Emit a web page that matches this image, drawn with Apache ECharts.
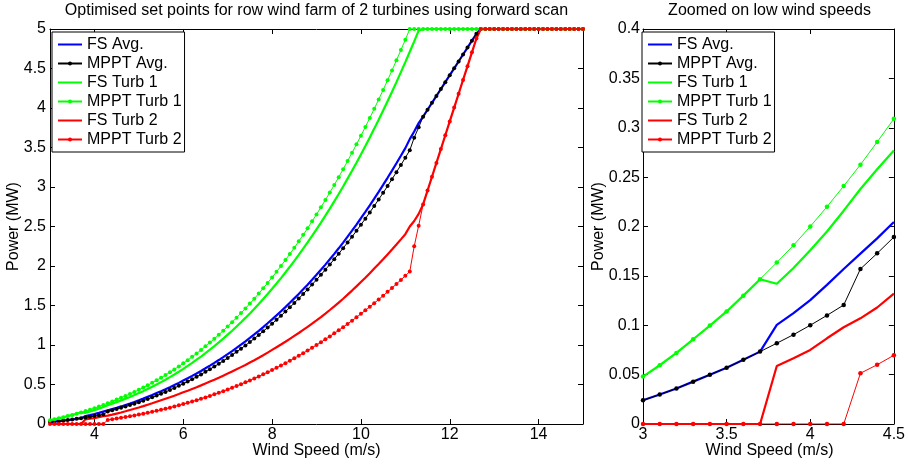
<!DOCTYPE html>
<html>
<head>
<meta charset="utf-8">
<script src="https://cdn.jsdelivr.net/npm/echarts@6/dist/echarts.min.js"></script>
<style>
  html, body { margin: 0; padding: 0; background: #fff; }
  #chart { width: 908px; height: 465px; }
</style>
</head>
<body>
<div id="chart"></div>
<script>
// Wind speed samples: 3.0 to 15.0 m/s in 0.1 m/s steps
const windSpeed = Array.from({ length: 121 }, (_, i) => (30 + i) / 10);

// Power (MW) per wind speed sample
const fsAvg = [
  0.024, 0.0298, 0.036, 0.0429, 0.0499, 0.057, 0.065, 0.0733, 0.1004, 0.1123,
  0.1255, 0.1409, 0.157, 0.1725, 0.188, 0.2045, 0.2225, 0.241, 0.2595, 0.2795,
  0.300, 0.321, 0.344, 0.3665, 0.391, 0.415, 0.440, 0.466, 0.4925, 0.5205,
  0.5495, 0.5785, 0.609, 0.640, 0.6715, 0.705, 0.739, 0.7735, 0.8095, 0.8465,
  0.8845, 0.923, 0.963, 1.004, 1.0455, 1.089, 1.1335, 1.1795, 1.2265, 1.275,
  1.3245, 1.375, 1.4265, 1.4795, 1.534, 1.590, 1.6465, 1.705, 1.764, 1.8255,
  1.888, 1.9515, 2.0175, 2.085, 2.1535, 2.224, 2.2965, 2.3715, 2.4475, 2.525,
  2.6045, 2.6855, 2.7685, 2.853, 2.9385, 3.0265, 3.1165, 3.2075, 3.300, 3.3955,
  3.492, 3.606, 3.702, 3.8095, 3.89, 3.9775, 4.065, 4.1525, 4.24, 4.3275,
  4.415, 4.5025, 4.59, 4.6775, 4.765, 4.8525, 4.94, 5, 5, 5,
  5, 5, 5, 5, 5, 5, 5, 5, 5, 5,
  5, 5, 5, 5, 5, 5, 5, 5, 5, 5,
  5
];
const mpptAvg = [
  0.024, 0.0298, 0.036, 0.0429, 0.0499, 0.057, 0.065, 0.0733, 0.0818, 0.0905,
  0.100, 0.110, 0.1205, 0.157, 0.1728, 0.1893, 0.2054, 0.2221, 0.239, 0.2572,
  0.276, 0.2956, 0.3164, 0.3374, 0.3597, 0.3822, 0.4059, 0.4309, 0.4561, 0.4826,
  0.5098, 0.5378, 0.5671, 0.5971, 0.628, 0.660, 0.6934, 0.7271, 0.7626, 0.7983,
  0.8359, 0.8737, 0.9134, 0.9539, 0.9952, 1.0378, 1.0818, 1.1271, 1.1732, 1.2207,
  1.2695, 1.3192, 1.3702, 1.4226, 1.4763, 1.5314, 1.5879, 1.6453, 1.704, 1.7646,
  1.8261, 1.8891, 1.9539, 2.0196, 2.0867, 2.1557, 2.2256, 2.2975, 2.3708, 2.4455,
  2.5216, 2.5992, 2.6787, 2.7597, 2.8421, 2.926, 3.0118, 3.0991, 3.1879, 3.2786,
  3.3708, 3.465, 3.625, 3.755, 3.89, 3.9775, 4.065, 4.1525, 4.24, 4.3275,
  4.415, 4.5025, 4.59, 4.6775, 4.765, 4.8525, 4.94, 5, 5, 5,
  5, 5, 5, 5, 5, 5, 5, 5, 5, 5,
  5, 5, 5, 5, 5, 5, 5, 5, 5, 5,
  5
];
const fsTurb1 = [
  0.048, 0.0595, 0.072, 0.0858, 0.0997, 0.114, 0.130, 0.1466, 0.142, 0.158,
  0.176, 0.195, 0.216, 0.238, 0.258, 0.277, 0.299, 0.321, 0.342, 0.366,
  0.391, 0.416, 0.444, 0.471, 0.501, 0.530, 0.561, 0.594, 0.627, 0.662,
  0.698, 0.735, 0.774, 0.814, 0.854, 0.897, 0.941, 0.986, 1.033, 1.081,
  1.131, 1.181, 1.234, 1.288, 1.343, 1.400, 1.459, 1.520, 1.582, 1.646,
  1.711, 1.778, 1.847, 1.918, 1.990, 2.065, 2.141, 2.219, 2.298, 2.380,
  2.464, 2.549, 2.637, 2.727, 2.818, 2.912, 3.007, 3.106, 3.206, 3.308,
  3.412, 3.519, 3.628, 3.739, 3.852, 3.968, 4.086, 4.206, 4.328, 4.454,
  4.581, 4.712, 4.844, 4.979, 5, 5, 5, 5, 5, 5,
  5, 5, 5, 5, 5, 5, 5, 5, 5, 5,
  5, 5, 5, 5, 5, 5, 5, 5, 5, 5,
  5, 5, 5, 5, 5, 5, 5, 5, 5, 5,
  5
];
const mpptTurb1 = [
  0.048, 0.0595, 0.072, 0.0858, 0.0997, 0.114, 0.130, 0.1466, 0.1635, 0.181,
  0.200, 0.220, 0.241, 0.2626, 0.2856, 0.309, 0.332, 0.356, 0.380, 0.406,
  0.433, 0.461, 0.491, 0.521, 0.553, 0.585, 0.619, 0.655, 0.691, 0.729,
  0.768, 0.808, 0.850, 0.893, 0.937, 0.983, 1.031, 1.079, 1.130, 1.181,
  1.235, 1.289, 1.346, 1.404, 1.463, 1.524, 1.587, 1.652, 1.718, 1.786,
  1.856, 1.927, 2.000, 2.075, 2.152, 2.231, 2.312, 2.394, 2.478, 2.565,
  2.653, 2.743, 2.836, 2.930, 3.026, 3.125, 3.225, 3.328, 3.433, 3.540,
  3.649, 3.760, 3.874, 3.990, 4.108, 4.228, 4.351, 4.476, 4.603, 4.733,
  4.865, 5, 5, 5, 5, 5, 5, 5, 5, 5,
  5, 5, 5, 5, 5, 5, 5, 5, 5, 5,
  5, 5, 5, 5, 5, 5, 5, 5, 5, 5,
  5, 5, 5, 5, 5, 5, 5, 5, 5, 5,
  5
];
const fsTurb2 = [
  0, 0, 0, 0, 0, 0, 0, 0, 0.0588, 0.0666,
  0.075, 0.0868, 0.098, 0.107, 0.118, 0.132, 0.146, 0.161, 0.177, 0.193,
  0.209, 0.226, 0.244, 0.262, 0.281, 0.300, 0.319, 0.338, 0.358, 0.379,
  0.401, 0.422, 0.444, 0.466, 0.489, 0.513, 0.537, 0.561, 0.586, 0.612,
  0.638, 0.665, 0.692, 0.720, 0.748, 0.778, 0.808, 0.839, 0.871, 0.904,
  0.938, 0.972, 1.006, 1.041, 1.078, 1.115, 1.152, 1.191, 1.230, 1.271,
  1.312, 1.354, 1.398, 1.443, 1.489, 1.536, 1.586, 1.637, 1.689, 1.742,
  1.797, 1.852, 1.909, 1.967, 2.025, 2.085, 2.147, 2.209, 2.272, 2.337,
  2.403, 2.50, 2.57, 2.66, 2.78, 2.955, 3.13, 3.305, 3.48, 3.655,
  3.83, 4.005, 4.18, 4.355, 4.53, 4.705, 4.88, 5, 5, 5,
  5, 5, 5, 5, 5, 5, 5, 5, 5, 5,
  5, 5, 5, 5, 5, 5, 5, 5, 5, 5,
  5
];
const mpptTurb2 = [
  0, 0, 0, 0, 0, 0, 0, 0, 0, 0,
  0, 0, 0, 0.0514, 0.060, 0.0696, 0.0787, 0.0881, 0.0980, 0.1083,
  0.1190, 0.1301, 0.1417, 0.1538, 0.1663, 0.1793, 0.1927, 0.2067, 0.2212, 0.2361,
  0.2516, 0.2676, 0.2841, 0.3012, 0.3189, 0.3370, 0.3558, 0.3751, 0.3951, 0.4156,
  0.4367, 0.4584, 0.4808, 0.5038, 0.5274, 0.5516, 0.5766, 0.6022, 0.6284, 0.6554,
  0.6830, 0.7113, 0.7404, 0.7701, 0.8006, 0.8318, 0.8638, 0.8965, 0.9300, 0.9642,
  0.9992, 1.0351, 1.0717, 1.1091, 1.1473, 1.1863, 1.2262, 1.2669, 1.3085, 1.3509,
  1.3942, 1.4384, 1.4834, 1.5293, 1.5762, 1.6239, 1.6726, 1.7222, 1.7727, 1.8242,
  1.8766, 1.930, 2.25, 2.51, 2.78, 2.955, 3.13, 3.305, 3.48, 3.655,
  3.83, 4.005, 4.18, 4.355, 4.53, 4.705, 4.88, 5, 5, 5,
  5, 5, 5, 5, 5, 5, 5, 5, 5, 5,
  5, 5, 5, 5, 5, 5, 5, 5, 5, 5,
  5
];

// Axis ticks
const mainXTicks = [4, 6, 8, 10, 12, 14];
const zoomCount = 16; // samples 3.0 .. 4.5 m/s shown in the zoomed panel

const FONT = '"Liberation Sans", Arial, Helvetica, sans-serif';

const lines = [
  { name: 'FS Avg.',     values: fsAvg,     color: '#0000ff', dotted: false },
  { name: 'MPPT Avg.',   values: mpptAvg,   color: '#000000', dotted: true },
  { name: 'FS Turb 1',   values: fsTurb1,   color: '#00ff00', dotted: false },
  { name: 'MPPT Turb 1', values: mpptTurb1, color: '#00ff00', dotted: true },
  { name: 'FS Turb 2',   values: fsTurb2,   color: '#ff0000', dotted: false },
  { name: 'MPPT Turb 2', values: mpptTurb2, color: '#ff0000', dotted: true }
];

function pairs(values, n) {
  return windSpeed.slice(0, n).map((x, i) => [x, values[i]]);
}

function panelSeries(panel) {
  const n = panel === 0 ? windSpeed.length : zoomCount;
  return lines.map(d => ({
    type: 'line',
    name: d.name,
    xAxisIndex: panel * 2,
    yAxisIndex: panel * 2,
    data: pairs(d.values, n),
    symbol: d.dotted ? 'circle' : 'none',
    symbolSize: d.dotted ? (panel === 0 ? 4 : 4.5) : 0,
    showSymbol: d.dotted,
    lineStyle: { color: d.color, width: d.dotted ? 1 : 2.2 },
    itemStyle: { color: d.color },
    clip: true,
    silent: true,
    animation: false
  }));
}

function axis(extra) {
  const base = {
    type: 'value',
    axisLine: { show: true, onZero: false, lineStyle: { color: '#000', width: 1 } },
    axisTick: { show: true, inside: true, length: 5, lineStyle: { color: '#000', width: 1 } },
    splitLine: { show: false },
    axisLabel: { color: '#000', fontFamily: FONT, fontSize: 16 }
  };
  const out = Object.assign({}, base, extra);
  out.axisTick = Object.assign({}, base.axisTick, extra.axisTick || {});
  out.axisLabel = Object.assign({}, base.axisLabel, extra.axisLabel || {});
  return out;
}

// Plain-line legend entries hide the marker; dotted entries keep it
const legendEntries = lines.map(d => d.dotted
  ? { name: d.name }
  : { name: d.name, itemStyle: { opacity: 0, color: 'transparent', borderWidth: 0 } });

const legendBase = {
  orient: 'vertical',
  top: 32,
  itemWidth: 24,
  itemHeight: 5,
  itemGap: 0,
  padding: [3, 3, 3, 5],
  borderColor: '#000',
  borderWidth: 1,
  borderRadius: 0,
  backgroundColor: '#fff',
  selectedMode: false,
  textStyle: { fontFamily: FONT, fontSize: 16, color: '#000', lineHeight: 19 },
  data: legendEntries
};

const textStyle = { fontFamily: FONT, fontSize: 16, fontWeight: 'normal', color: '#000' };

const chart = echarts.init(document.getElementById('chart'), null, { renderer: 'canvas' });
chart.setOption({
  animation: false,
  backgroundColor: '#fff',
  title: [
    { text: 'Optimised set points for row wind farm of 2 turbines using forward scan',
      left: 316.5, top: 3, textAlign: 'center', padding: 0, textStyle },
    { text: 'Zoomed on low wind speeds',
      left: 769.5, top: 3, textAlign: 'center', padding: 0, textStyle }
  ],
  grid: [
    { left: 50, right: 325, top: 29, bottom: 41 },
    { left: 643, right: 12, top: 29, bottom: 41 }
  ],
  xAxis: [
    axis({ gridIndex: 0, min: 3, max: 15, position: 'bottom',
           axisTick: { customValues: mainXTicks }, axisLabel: { customValues: mainXTicks, margin: 3 } }),
    axis({ gridIndex: 0, min: 3, max: 15, position: 'top',
           axisTick: { customValues: mainXTicks }, axisLabel: { show: false } }),
    axis({ gridIndex: 1, min: 3, max: 4.5, interval: 0.5, position: 'bottom',
           axisLabel: { margin: 3 } }),
    axis({ gridIndex: 1, min: 3, max: 4.5, interval: 0.5, position: 'top',
           axisLabel: { show: false } })
  ],
  yAxis: [
    axis({ gridIndex: 0, min: 0, max: 5, interval: 0.5, position: 'left', axisLabel: { margin: 4 } }),
    axis({ gridIndex: 0, min: 0, max: 5, interval: 0.5, position: 'right', axisLabel: { show: false } }),
    axis({ gridIndex: 1, min: 0, max: 0.4, interval: 0.05, position: 'left', axisLabel: { margin: 3 } }),
    axis({ gridIndex: 1, min: 0, max: 0.4, interval: 0.05, position: 'right', axisLabel: { show: false } })
  ],
  legend: [
    Object.assign({}, legendBase, { left: 52 }),
    Object.assign({}, legendBase, { left: 642 })
  ],
  graphic: [
    { type: 'text', x: 316.5, y: 451, silent: true,
      style: { text: 'Wind Speed (m/s)', font: '16px ' + FONT, fill: '#000', align: 'center', verticalAlign: 'middle' } },
    { type: 'text', x: 769.5, y: 451, silent: true,
      style: { text: 'Wind Speed (m/s)', font: '16px ' + FONT, fill: '#000', align: 'center', verticalAlign: 'middle' } },
    { type: 'text', x: 14, y: 226.5, rotation: Math.PI / 2, silent: true,
      style: { text: 'Power (MW)', font: '16px ' + FONT, fill: '#000', align: 'center', verticalAlign: 'middle' } },
    { type: 'text', x: 599, y: 226.5, rotation: Math.PI / 2, silent: true,
      style: { text: 'Power (MW)', font: '16px ' + FONT, fill: '#000', align: 'center', verticalAlign: 'middle' } }
  ],
  series: panelSeries(0).concat(panelSeries(1))
});
</script>
</body>
</html>
